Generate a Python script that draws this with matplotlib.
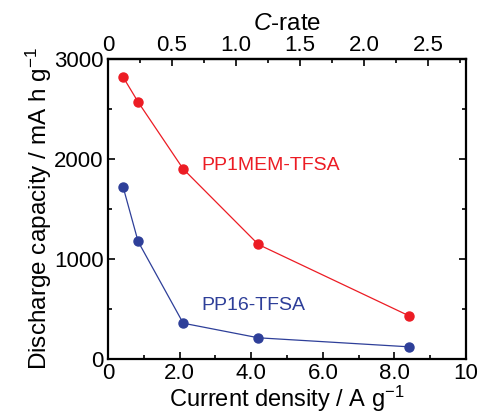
import matplotlib
matplotlib.use("Agg")
import matplotlib.pyplot as plt
from matplotlib.ticker import MultipleLocator, FixedLocator, FixedFormatter

plt.rcParams['font.family'] = ['Liberation Sans', 'DejaVu Sans']
plt.rcParams['mathtext.fontset'] = 'custom'
plt.rcParams['mathtext.rm'] = 'Liberation Sans'
plt.rcParams['mathtext.it'] = 'Liberation Sans:italic'

# current density (A/g) and discharge capacity (mAh/g)
current_density = [0.42, 0.84, 2.1, 4.2, 8.4]
cap_pp1mem = [2820, 2570, 1900, 1145, 433]
cap_pp16 = [1722, 1175, 358, 212, 122]

A_PER_C = 3.575  # A/g corresponding to 1 C

red = '#ec1c24'
blue = '#2e3f99'

fig = plt.figure(figsize=(4.78, 4.11), dpi=100)
ax = fig.add_axes([0.226, 0.1265, 0.749, 0.73])

ax.plot(current_density, cap_pp1mem, '-o', color=red, lw=0.9, ms=6.5)
ax.plot(current_density, cap_pp16, '-o', color=blue, lw=0.9, ms=6.5)

ax.text(2.62, 1930, 'PP1MEM-TFSA', color=red, fontsize=14, va='center', ha='left')
ax.text(2.62, 540, 'PP16-TFSA', color=blue, fontsize=14, va='center', ha='left')

ax.set_xlim(0, 10)
ax.set_ylim(0, 3000)
ax.xaxis.set_major_locator(FixedLocator([0, 2, 4, 6, 8, 10]))
ax.xaxis.set_major_formatter(FixedFormatter(['0', '2.0', '4.0', '6.0', '8.0', '10']))
ax.xaxis.set_minor_locator(MultipleLocator(1))
ax.yaxis.set_major_locator(MultipleLocator(1000))
ax.yaxis.set_minor_locator(MultipleLocator(500))

ax.tick_params(which='both', direction='in', top=False, right=True, width=1.2,
               labelsize=16)
ax.tick_params(axis='x', pad=3)
ax.tick_params(axis='y', pad=3)
ax.tick_params(which='major', length=5)
ax.tick_params(which='minor', length=3)
for s in ax.spines.values():
    s.set_linewidth(1.6)

ax.set_xlabel('Current density / A g$^{-1}$', fontsize=17, labelpad=0)
ax.set_ylabel('Discharge capacity / mA h g$^{-1}$', fontsize=17.5, labelpad=0)

top = ax.secondary_xaxis('top', functions=(lambda x: x / A_PER_C, lambda c: c * A_PER_C))
top.xaxis.set_major_locator(FixedLocator([0, 0.5, 1.0, 1.5, 2.0, 2.5]))
top.xaxis.set_major_formatter(FixedFormatter(['0', '0.5', '1.0', '1.5', '2.0', '2.5']))
top.xaxis.set_minor_locator(MultipleLocator(0.25))
top.tick_params(which='both', direction='in', width=1.2, labelsize=16, pad=2)
top.tick_params(which='major', length=5)
top.tick_params(which='minor', length=3)
top.spines['top'].set_linewidth(1.6)
top.set_xlabel('$\\mathit{C}$-rate', fontsize=17.5, labelpad=4)

fig.savefig('out.png', dpi=100)
